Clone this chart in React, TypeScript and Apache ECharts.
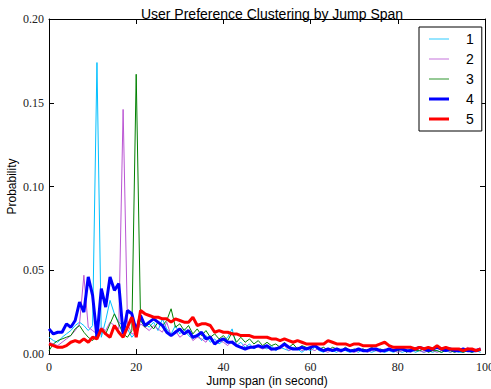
import React, { useEffect, useRef } from "react";
import * as echarts from "echarts";

const seriesNames = ["1", "2", "3", "4", "5"];
const seriesColors = ["#00BFFF", "#BA55D3", "#008000", "#0000FF", "#FF0000"];
const seriesWidths = [1, 1, 1, 3, 3];

const xTicks = [0, 20, 40, 60, 80, 100];
const yTicks = [0, 0.05, 0.1, 0.15, 0.2];

const s1 = [
  0.010, 0.008, 0.007, 0.010, 0.012, 0.014, 0.017, 0.019, 0.017, 0.014,
  0.017, 0.174, 0.010, 0.020, 0.032, 0.024, 0.019, 0.017, 0.015, 0.010,
  0.013, 0.020, 0.018, 0.016, 0.019, 0.014, 0.021, 0.015, 0.012, 0.017,
  0.012, 0.015, 0.011, 0.009, 0.012, 0.008, 0.011, 0.007, 0.009, 0.006,
  0.008, 0.010, 0.015, 0.005, 0.007, 0.004, 0.006, 0.003, 0.005, 0.004,
  0.003, 0.005, 0.002, 0.004, 0.003, 0.002, 0.004, 0.003, 0.001, 0.003,
  0.002, 0.004, 0.002, 0.001, 0.003, 0.002, 0.001, 0.003, 0.002, 0.001,
  0.002, 0.001, 0.003, 0.002, 0.001, 0.002, 0.002, 0.001, 0.002, 0.001,
  0.002, 0.001, 0.002, 0.003, 0.001, 0.002, 0.001, 0.002, 0.001, 0.002,
  0.001, 0.002, 0.001, 0.002, 0.001, 0.001, 0.002, 0.001, 0.002, 0.001,
];
const s2 = [
  0.007, 0.006, 0.005, 0.007, 0.009, 0.011, 0.014, 0.018, 0.047, 0.016,
  0.014, 0.012, 0.016, 0.014, 0.019, 0.017, 0.015, 0.146, 0.018, 0.012,
  0.012, 0.018, 0.016, 0.014, 0.017, 0.015, 0.013, 0.019, 0.011, 0.014,
  0.010, 0.012, 0.013, 0.008, 0.010, 0.009, 0.007, 0.011, 0.006, 0.008,
  0.007, 0.005, 0.008, 0.006, 0.004, 0.006, 0.003, 0.005, 0.004, 0.003,
  0.004, 0.002, 0.004, 0.003, 0.005, 0.002, 0.003, 0.004, 0.002, 0.003,
  0.003, 0.002, 0.004, 0.002, 0.001, 0.003, 0.002, 0.001, 0.003, 0.002,
  0.001, 0.002, 0.003, 0.001, 0.002, 0.002, 0.001, 0.003, 0.002, 0.002,
  0.001, 0.002, 0.002, 0.001, 0.003, 0.002, 0.001, 0.002, 0.002, 0.001,
  0.002, 0.003, 0.001, 0.002, 0.002, 0.001, 0.004, 0.002, 0.003, 0.003,
];
const s3 = [
  0.002, 0.006, 0.008, 0.009, 0.010, 0.011, 0.015, 0.017, 0.013, 0.010,
  0.008, 0.012, 0.015, 0.012, 0.018, 0.024, 0.018, 0.012, 0.010, 0.014,
  0.167, 0.020, 0.016, 0.018, 0.015, 0.019, 0.017, 0.020, 0.027, 0.016,
  0.018, 0.014, 0.017, 0.012, 0.015, 0.011, 0.014, 0.010, 0.012, 0.009,
  0.011, 0.008, 0.013, 0.007, 0.010, 0.007, 0.009, 0.006, 0.008, 0.005,
  0.007, 0.005, 0.006, 0.004, 0.007, 0.004, 0.006, 0.003, 0.005, 0.004,
  0.003, 0.005, 0.003, 0.004, 0.002, 0.004, 0.003, 0.002, 0.004, 0.002,
  0.003, 0.002, 0.003, 0.002, 0.004, 0.002, 0.003, 0.002, 0.003, 0.002,
  0.002, 0.003, 0.001, 0.003, 0.002, 0.002, 0.003, 0.001, 0.002, 0.002,
  0.001, 0.002, 0.002, 0.001, 0.002, 0.001, 0.002, 0.001, 0.002, 0.002,
];
const s4 = [
  0.015, 0.012, 0.013, 0.013, 0.018, 0.016, 0.020, 0.031, 0.025, 0.046,
  0.035, 0.010, 0.039, 0.028, 0.046, 0.038, 0.042, 0.012, 0.026, 0.024,
  0.014, 0.023, 0.017, 0.019, 0.021, 0.019, 0.017, 0.013, 0.011, 0.013,
  0.015, 0.012, 0.014, 0.010, 0.011, 0.013, 0.009, 0.010, 0.006, 0.008,
  0.009, 0.007, 0.007, 0.005, 0.004, 0.003, 0.004, 0.004, 0.005, 0.004,
  0.005, 0.003, 0.003, 0.004, 0.006, 0.004, 0.003, 0.003, 0.004, 0.003,
  0.004, 0.005, 0.003, 0.002, 0.003, 0.002, 0.003, 0.002, 0.003, 0.002,
  0.002, 0.003, 0.002, 0.002, 0.003, 0.003, 0.002, 0.002, 0.003, 0.002,
  0.003, 0.003, 0.002, 0.002, 0.003, 0.004, 0.003, 0.002, 0.003, 0.004,
  0.003, 0.002, 0.003, 0.002, 0.002, 0.003, 0.002, 0.002, 0.002, 0.003,
];
const s5 = [
  0.006, 0.005, 0.004, 0.004, 0.005, 0.007, 0.008, 0.007, 0.009, 0.007,
  0.010, 0.009, 0.015, 0.012, 0.010, 0.017, 0.013, 0.010, 0.016, 0.022,
  0.010, 0.026, 0.024, 0.023, 0.022, 0.022, 0.021, 0.021, 0.019, 0.021,
  0.020, 0.019, 0.019, 0.022, 0.017, 0.018, 0.018, 0.017, 0.013, 0.014,
  0.013, 0.013, 0.012, 0.012, 0.011, 0.011, 0.011, 0.010, 0.010, 0.010,
  0.010, 0.009, 0.009, 0.008, 0.009, 0.008, 0.007, 0.008, 0.007, 0.006,
  0.006, 0.006, 0.006, 0.006, 0.008, 0.007, 0.006, 0.006, 0.006, 0.005,
  0.006, 0.006, 0.005, 0.005, 0.005, 0.005, 0.006, 0.007, 0.005, 0.004,
  0.004, 0.004, 0.004, 0.004, 0.003, 0.004, 0.003, 0.004, 0.003, 0.005,
  0.003, 0.004, 0.003, 0.003, 0.003, 0.002, 0.003, 0.003, 0.002, 0.003,
];
const allSeries = [s1, s2, s3, s4, s5];

// legend line icons: a horizontal bar plus tiny corner specks to fix the box size
const lineIcon = (w: number) =>
  `path://M0,0h0.01v0.01h-0.01z M0,13.99h0.01v0.01h-0.01z M19.99,0h0.01v0.01h-0.01z M0,${7 - w / 2}h20v${w}h-20z`;

export default function App() {
  const ref = useRef<HTMLDivElement>(null);
  useEffect(() => {
    if (!ref.current) return;
    const chart = echarts.init(ref.current, null, { renderer: "svg" });
    const serif = "'Liberation Serif', 'DejaVu Serif', serif";
    const sans = "'Liberation Sans', Arial, sans-serif";
    const axisBase = {
      type: "value" as const,
      axisLine: { show: true, onZero: false, lineStyle: { color: "#000", width: 1 } },
      axisTick: { show: true, inside: true, length: 5, lineStyle: { color: "#000" } },
      splitLine: { show: false },
    };
    chart.setOption({
      animation: false,
      backgroundColor: "#fff",
      title: {
        text: "User Preference Clustering by Jump Span",
        left: 267,
        textAlign: "center",
        top: 2,
        textStyle: { fontFamily: sans, fontSize: 14, fontWeight: "normal", color: "#000" },
      },
      legend: {
        left: 419,
        top: 27,
        orient: "vertical",
        data: seriesNames.map((n, k) => ({
          name: n,
          icon: lineIcon(seriesWidths[k] === 1 ? 1.5 : 3),
          itemStyle: { color: seriesColors[k], opacity: seriesWidths[k] === 1 ? 0.55 : 1 },
        })),
        itemWidth: 20,
        itemHeight: 14,
        itemGap: 6,
        padding: [5, 8, 5, 10],
        borderColor: "#000",
        borderWidth: 1,
        borderRadius: 0,
        backgroundColor: "#fff",
        textStyle: { fontFamily: sans, fontSize: 14, color: "#000", padding: [0, 0, 0, 12], lineHeight: 14 },
      },
      grid: { left: 49, right: 6, top: 19, bottom: 35, containLabel: false, outerBoundsMode: "none" },
      xAxis: [
        {
          ...axisBase,
          position: "bottom",
          min: 0,
          max: 100,
          interval: 20,
          name: "Jump span (in second)",
          nameLocation: "middle",
          nameGap: 20,
          nameMoveOverlap: false,
          nameTextStyle: { fontFamily: sans, fontSize: 12, color: "#000", verticalAlign: "top", lineHeight: 13 },
          axisLabel: { fontFamily: serif, fontSize: 12, color: "#222", margin: 7, lineHeight: 12 },
        },
        {
          ...axisBase,
          position: "top",
          min: 0,
          max: 100,
          interval: 20,
          axisLabel: { show: false },
        },
      ],
      yAxis: [
        {
          ...axisBase,
          position: "left",
          min: 0,
          max: 0.2,
          interval: 0.05,
          name: "Probability",
          nameLocation: "middle",
          nameGap: 31,
          nameMoveOverlap: false,
          nameTextStyle: { fontFamily: sans, fontSize: 12, color: "#000" },
          axisLabel: {
            fontFamily: serif,
            fontSize: 12,
            color: "#222",
            margin: 5,
            formatter: (v: number) => v.toFixed(2),
          },
        },
        {
          ...axisBase,
          position: "right",
          min: 0,
          max: 0.2,
          interval: 0.05,
          axisLabel: { show: false },
        },
      ],
      series: allSeries.map((arr, k) => ({
        name: seriesNames[k],
        type: "line",
        xAxisIndex: 0,
        yAxisIndex: 0,
        showSymbol: false,
        symbol: "none",
        data: arr.map((v, i) => [i, v]),
        lineStyle: { color: seriesColors[k], width: seriesWidths[k] },
        itemStyle: { color: seriesColors[k] },
        z: 2 + k,
      })),
    });
    return () => chart.dispose();
  }, []);
  return (
    <div
      ref={ref}
      style={{ position: "fixed", left: 0, top: 0, width: 491, height: 389 }}
    />
  );
}
